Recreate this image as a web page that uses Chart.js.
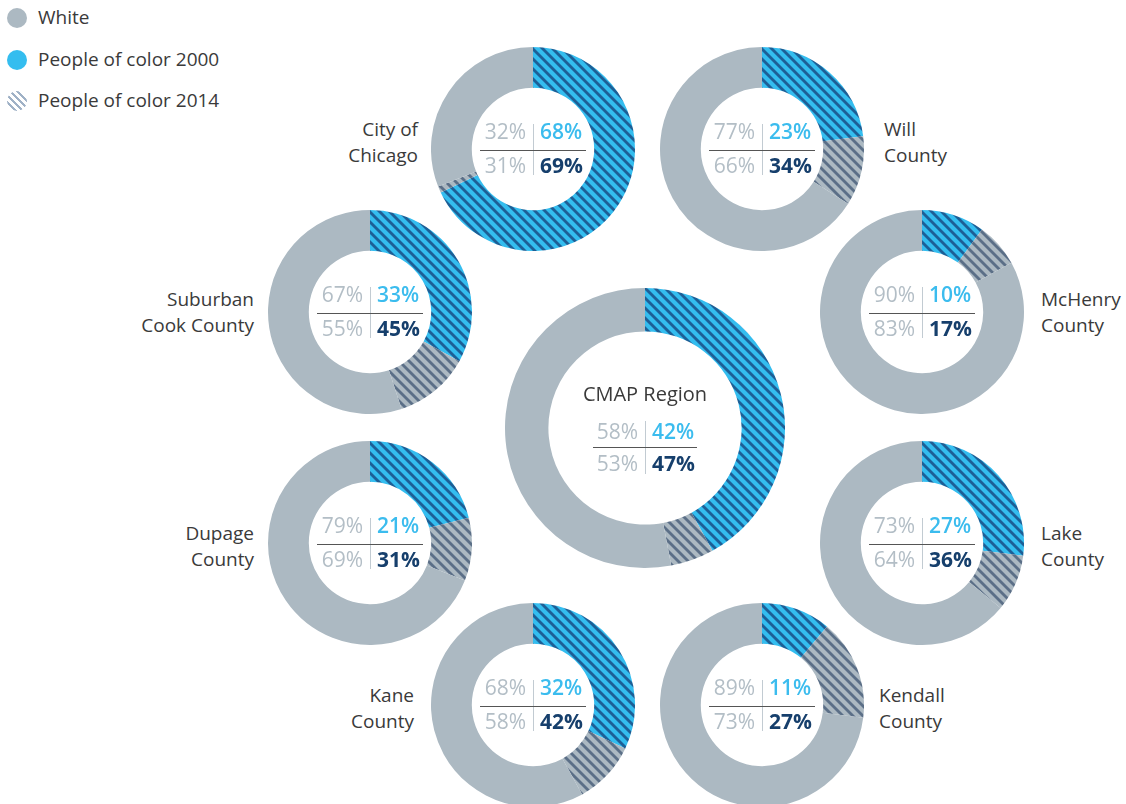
<!DOCTYPE html>
<html>
<head>
<meta charset="utf-8">
<script src="https://cdn.jsdelivr.net/npm/chart.js@4.4.0/dist/chart.umd.min.js"></script>
<style>
  html, body { margin: 0; padding: 0; background: #fff; }
  body { width: 1126px; height: 804px; position: relative; overflow: hidden;
         font-family: 'Open Sans', sans-serif; color: #3a3a3a; }
  .donut { position: absolute; }
  .label { position: absolute; font-size: 19px; line-height: 26px; white-space: nowrap; }
  .label.right { text-align: right; transform: translateX(-100%); }
  .legend { position: absolute; left: 7px; top: 0; font-size: 19px; }
  .legend .item { position: absolute; left: 0; white-space: nowrap; height: 20px; line-height: 20px; }
  .legend .dot { position: absolute; left: 0; top: 0; width: 20px; height: 20px; border-radius: 50%; }
  .legend .txt { position: absolute; left: 31px; top: -1px; }
</style>
</head>
<body>
<div class="legend" id="legend"></div>
<script>
// population share by race, 2000 vs 2014 (percent)
const regions = ['City of Chicago', 'Will County', 'Suburban Cook County', 'McHenry County',
  'CMAP Region', 'Dupage County', 'Lake County', 'Kane County', 'Kendall County'];
const white2000 = [32, 77, 67, 90, 58, 79, 73, 68, 89];
const poc2000   = [68, 23, 33, 10, 42, 21, 27, 32, 11];
const white2014 = [31, 66, 55, 83, 53, 69, 64, 58, 73];
const poc2014   = [69, 34, 45, 17, 47, 31, 36, 42, 27];
const legendLabels = ['White', 'People of color 2000', 'People of color 2014'];

// ring placement and the side label next to each ring
const layout = [
  { cx: 533, cy: 149, r: 102, lines: ['City of', 'Chicago'], lx: 418, ly: 116, align: 'right' },
  { cx: 762, cy: 149, r: 102, lines: ['Will', 'County'], lx: 884, ly: 116, align: 'left' },
  { cx: 370, cy: 312, r: 102, lines: ['Suburban', 'Cook County'], lx: 254, ly: 286, align: 'right' },
  { cx: 922, cy: 312, r: 102, lines: ['McHenry', 'County'], lx: 1041, ly: 286, align: 'left' },
  { cx: 645, cy: 428, r: 140, big: true },
  { cx: 370, cy: 543, r: 102, lines: ['Dupage', 'County'], lx: 254, ly: 520, align: 'right' },
  { cx: 922, cy: 543, r: 102, lines: ['Lake', 'County'], lx: 1041, ly: 520, align: 'left' },
  { cx: 533, cy: 705, r: 102, lines: ['Kane', 'County'], lx: 414, ly: 682, align: 'right' },
  { cx: 762, cy: 705, r: 102, lines: ['Kendall', 'County'], lx: 879, ly: 682, align: 'left' },
];

const GRAY = '#acb9c2';
const BLUE = '#34bdef';
const GRAY_TXT = '#b3bec6';
const BLUE_TXT = '#3bbcee';
const NAVY_TXT = '#163f6c';

function stripes(bg, fg, width) {
  const s = 10;
  const c = document.createElement('canvas');
  c.width = c.height = s;
  const g = c.getContext('2d');
  g.fillStyle = bg;
  g.fillRect(0, 0, s, s);
  g.strokeStyle = fg;
  g.lineWidth = width;
  for (const k of [-s, 0, s]) {
    g.beginPath();
    g.moveTo(k - 1, -1);
    g.lineTo(k + s + 1, s + 1);
    g.stroke();
  }
  return g.createPattern(c, 'repeat');
}

const bluePattern = stripes(BLUE, '#1d5f96', 2.8);
const grayPattern = stripes(GRAY, '#5b6f87', 2.8);

// percentages in the ring hole: 2000 on top, 2014 below, white | people of color
const centerText = {
  id: 'centerText',
  afterDraw(chart, args, o) {
    const ctx = chart.ctx;
    const arc = chart.getDatasetMeta(0).data[0];
    const x = arc.x, y = arc.y;
    const off = o.big ? { title: -33, top: 5, line: 19, bot: 37, vt: -7, vb: 46, hw: 52 }
                      : { title: 0, top: -16, line: 1, bot: 18, vt: -25, vb: 26, hw: 53 };
    ctx.save();
    if (o.big) {
      ctx.font = '400 20px "Open Sans"';
      ctx.fillStyle = '#3a3a3a';
      ctx.textAlign = 'center';
      ctx.textBaseline = 'middle';
      ctx.fillText(o.title, x, y + off.title);
    }
    ctx.strokeStyle = '#c2cbd2';
    ctx.lineWidth = 1;
    ctx.beginPath();
    ctx.moveTo(x + 0.5, y + off.vt);
    ctx.lineTo(x + 0.5, y + off.vb);
    ctx.stroke();
    ctx.strokeStyle = '#555';
    ctx.beginPath();
    ctx.moveTo(x - off.hw, y + off.line + 0.5);
    ctx.lineTo(x + off.hw, y + off.line + 0.5);
    ctx.stroke();

    ctx.textBaseline = 'middle';
    ctx.font = '400 21px "Open Sans"';
    ctx.fillStyle = GRAY_TXT;
    ctx.textAlign = 'right';
    ctx.fillText(o.w00 + '%', x - 7, y + off.top);
    ctx.fillText(o.w14 + '%', x - 7, y + off.bot);
    ctx.textAlign = 'left';
    ctx.font = '600 21px "Open Sans"';
    ctx.fillStyle = BLUE_TXT;
    ctx.fillText(o.p00 + '%', x + 7, y + off.top);
    ctx.font = '700 21px "Open Sans"';
    ctx.fillStyle = NAVY_TXT;
    ctx.fillText(o.p14 + '%', x + 7, y + off.bot);
    ctx.restore();
  }
};

layout.forEach((L, i) => {
  const wrap = document.createElement('div');
  wrap.className = 'donut';
  wrap.style.left = (L.cx - L.r) + 'px';
  wrap.style.top = (L.cy - L.r) + 'px';
  const canvas = document.createElement('canvas');
  canvas.width = canvas.height = L.r * 2;
  canvas.style.width = canvas.style.height = L.r * 2 + 'px';
  wrap.appendChild(canvas);
  document.body.appendChild(wrap);

  new Chart(canvas, {
    type: 'doughnut',
    data: {
      labels: ['People of color 2000', 'People of color 2014', 'White'],
      datasets: [{
        data: [poc2000[i], poc2014[i] - poc2000[i], white2014[i]],
        backgroundColor: [bluePattern, grayPattern, GRAY],
        borderWidth: 0,
      }]
    },
    options: {
      responsive: false,
      animation: false,
      events: [],
      cutout: L.big ? '69%' : '60%',
      layout: { padding: 0 },
      plugins: {
        legend: { display: false },
        tooltip: { enabled: false },
        centerText: { big: !!L.big, title: regions[i],
          w00: white2000[i], p00: poc2000[i], w14: white2014[i], p14: poc2014[i] },
      },
    },
    plugins: [centerText],
  });

  if (L.lines) {
    const lab = document.createElement('div');
    lab.className = 'label ' + L.align;
    lab.style.left = L.lx + 'px';
    lab.style.top = L.ly + 'px';
    lab.innerHTML = L.lines.join('<br>');
    document.body.appendChild(lab);
  }
});

// legend
const legend = document.getElementById('legend');
const swatches = [GRAY, BLUE,
  'repeating-linear-gradient(45deg, #9fb1c6 0 2.5px, #fff 2.5px 5px)'];
legendLabels.forEach((t, k) => {
  const item = document.createElement('div');
  item.className = 'item';
  item.style.top = (8 + k * 41.5) + 'px';
  item.innerHTML = '<div class="dot" style="background:' + swatches[k] + '"></div><div class="txt">' + t + '</div>';
  legend.appendChild(item);
});
</script>
</body>
</html>
